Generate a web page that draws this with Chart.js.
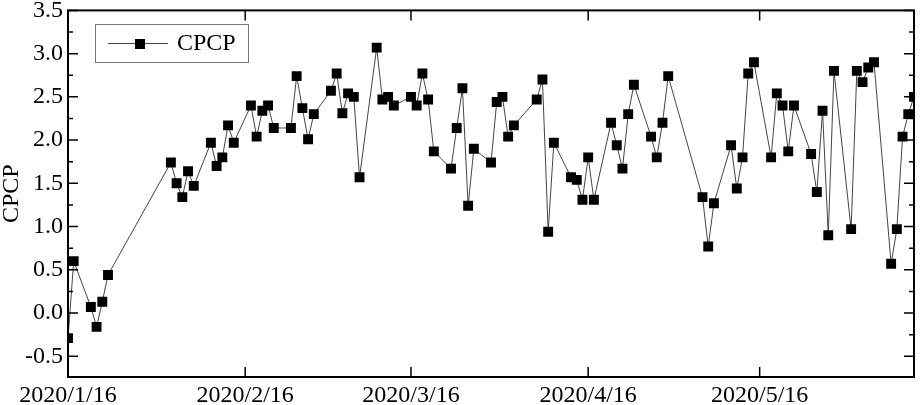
<!DOCTYPE html>
<html>
<head>
<meta charset="utf-8">
<script src="https://cdn.jsdelivr.net/npm/chart.js@4.4.0/dist/chart.umd.min.js"></script>
<style>
    body { margin: 0; background: #fff; }
    #wrap { width: 921px; height: 405px; }
</style>
</head>
<body>
<div id="wrap"><canvas id="myChart"></canvas></div>
<script>
    var dates = [
        '2020/1/16', '2020/1/17', '2020/1/20', '2020/1/21', '2020/1/22', '2020/1/23',
        '2020/2/3', '2020/2/4', '2020/2/5', '2020/2/6', '2020/2/7',
        '2020/2/10', '2020/2/11', '2020/2/12', '2020/2/13', '2020/2/14',
        '2020/2/17', '2020/2/18', '2020/2/19', '2020/2/20', '2020/2/21',
        '2020/2/24', '2020/2/25', '2020/2/26', '2020/2/27', '2020/2/28',
        '2020/3/2', '2020/3/3', '2020/3/4', '2020/3/5', '2020/3/6', '2020/3/7',
        '2020/3/10', '2020/3/11', '2020/3/12', '2020/3/13',
        '2020/3/16', '2020/3/17', '2020/3/18', '2020/3/19', '2020/3/20',
        '2020/3/23', '2020/3/24', '2020/3/25', '2020/3/26', '2020/3/27',
        '2020/3/30', '2020/3/31', '2020/4/1', '2020/4/2', '2020/4/3',
        '2020/4/7', '2020/4/8', '2020/4/9', '2020/4/10',
        '2020/4/13', '2020/4/14', '2020/4/15', '2020/4/16', '2020/4/17',
        '2020/4/20', '2020/4/21', '2020/4/22', '2020/4/23', '2020/4/24',
        '2020/4/27', '2020/4/28', '2020/4/29', '2020/4/30',
        '2020/5/6', '2020/5/7', '2020/5/8',
        '2020/5/11', '2020/5/12', '2020/5/13', '2020/5/14', '2020/5/15',
        '2020/5/18', '2020/5/19', '2020/5/20', '2020/5/21', '2020/5/22',
        '2020/5/25', '2020/5/26', '2020/5/27', '2020/5/28', '2020/5/29',
        '2020/6/1', '2020/6/2', '2020/6/3', '2020/6/4', '2020/6/5',
        '2020/6/8', '2020/6/9', '2020/6/10', '2020/6/11', '2020/6/12'
    ];
    var cpcp = [
        -0.29, 0.60, 0.07, -0.16, 0.13, 0.44,
        1.74, 1.50, 1.34, 1.64, 1.47,
        1.97, 1.70, 1.80, 2.17, 1.97,
        2.40, 2.04, 2.34, 2.40, 2.14,
        2.14, 2.74, 2.37, 2.01, 2.30,
        2.57, 2.77, 2.31, 2.54, 2.50, 1.57,
        3.07, 2.47, 2.50, 2.40,
        2.50, 2.40, 2.77, 2.47, 1.87,
        1.67, 2.14, 2.60, 1.24, 1.90,
        1.74, 2.44, 2.50, 2.04, 2.17,
        2.47, 2.70, 0.94, 1.97,
        1.57, 1.54, 1.31, 1.80, 1.31,
        2.20, 1.94, 1.67, 2.30, 2.64,
        2.04, 1.80, 2.20, 2.74,
        1.34, 0.77, 1.27,
        1.94, 1.44, 1.80, 2.77, 2.90,
        1.80, 2.54, 2.40, 1.87, 2.40,
        1.84, 1.40, 2.34, 0.90, 2.80,
        0.97, 2.80, 2.67, 2.84, 2.90,
        0.57, 0.97, 2.04, 2.30, 2.50
    ];
    var xTickDates = ['2020/1/16', '2020/2/16', '2020/3/16', '2020/4/16', '2020/5/16'];
    var yTicks = [-0.5, 0, 0.5, 1.0, 1.5, 2.0, 2.5, 3.0, 3.5];
    var startDate = '2020/1/16';
    var endDate = '2020/6/12';

    function dayNum(s) {
        var p = s.split('/');
        var q = startDate.split('/');
        return Math.round((Date.UTC(+p[0], +p[1] - 1, +p[2]) - Date.UTC(+q[0], +q[1] - 1, +q[2])) / 86400000);
    }

    var points = dates.map(function(d, i) {
        return { x: dayNum(d), y: cpcp[i] };
    });

    // frame + inward ticks on all four sides, like the original plot
    var frameTicks = {
        id: 'frameTicks',
        afterDraw: function(chart) {
            var ctx = chart.ctx, a = chart.chartArea;
            var xs = chart.scales.x, ys = chart.scales.y;
            ctx.save();
            ctx.strokeStyle = '#000';
            ctx.lineWidth = 1.5;
            ctx.beginPath();
            xs.ticks.forEach(function(t) {
                var px = xs.getPixelForValue(t.value);
                ctx.moveTo(px, a.bottom); ctx.lineTo(px, a.bottom - 10);
                ctx.moveTo(px, a.top); ctx.lineTo(px, a.top + 10);
            });
            for (var i = 0; i < yTicks.length; i++) {
                var py = ys.getPixelForValue(yTicks[i]);
                ctx.moveTo(a.left, py); ctx.lineTo(a.left + 10, py);
                ctx.moveTo(a.right, py); ctx.lineTo(a.right - 10, py);
                if (i < yTicks.length - 1) {
                    var pm = ys.getPixelForValue((yTicks[i] + yTicks[i + 1]) / 2);
                    ctx.moveTo(a.left, pm); ctx.lineTo(a.left + 5, pm);
                    ctx.moveTo(a.right, pm); ctx.lineTo(a.right - 5, pm);
                }
            }
            ctx.stroke();
            ctx.lineWidth = 2;
            ctx.strokeRect(a.left, a.top, a.right - a.left, a.bottom - a.top);

            // legend box
            var ds = chart.data.datasets[0];
            ctx.fillStyle = '#fff';
            ctx.fillRect(95, 24, 153, 38);
            ctx.strokeStyle = '#777';
            ctx.lineWidth = 1;
            ctx.strokeRect(95.5, 24.5, 153, 38);
            ctx.strokeStyle = ds.borderColor;
            ctx.beginPath();
            ctx.moveTo(108, 43.5); ctx.lineTo(168, 43.5);
            ctx.stroke();
            ctx.fillStyle = '#000';
            ctx.fillRect(135, 39, 10, 10);
            ctx.font = '24px "Liberation Serif"';
            ctx.textBaseline = 'middle';
            ctx.textAlign = 'left';
            ctx.fillText(ds.label, 177, 44);
            ctx.restore();
        }
    };

    var ctx = document.getElementById('myChart').getContext('2d');
    var myChart = new Chart(ctx, {
        type: 'line',
        data: {
            datasets: [{
                label: 'CPCP',
                data: points,
                borderColor: '#444',
                borderWidth: 1,
                pointStyle: 'rect',
                pointRadius: 7,
                pointBackgroundColor: '#000',
                pointBorderColor: '#000',
                pointBorderWidth: 0,
                tension: 0
            }]
        },
        options: {
            responsive: true,
            maintainAspectRatio: false,
            animation: false,
            layout: { padding: { top: 0, right: 1, left: 0, bottom: 0 } },
            plugins: {
                legend: { display: false },
                tooltip: { enabled: false }
            },
            scales: {
                x: {
                    type: 'linear',
                    min: 0,
                    max: dayNum(endDate),
                    grid: { display: false, drawTicks: false },
                    border: { display: false },
                    afterBuildTicks: function(axis) {
                        axis.ticks = xTickDates.map(function(d) { return { value: dayNum(d) }; });
                    },
                    afterFit: function(axis) { axis.height = 28; },
                    ticks: {
                        autoSkip: false,
                        maxRotation: 0,
                        padding: 4,
                        color: '#000',
                        font: { family: 'Liberation Serif', size: 24 },
                        callback: function(value) {
                            for (var i = 0; i < xTickDates.length; i++) {
                                if (dayNum(xTickDates[i]) === value) return xTickDates[i];
                            }
                            return '';
                        }
                    }
                },
                y: {
                    min: -0.74,
                    max: 3.5,
                    grid: { display: false, drawTicks: false },
                    border: { display: false },
                    afterBuildTicks: function(axis) {
                        axis.ticks = yTicks.map(function(v) { return { value: v }; });
                    },
                    afterFit: function(axis) { axis.width = 68; },
                    ticks: {
                        padding: 5,
                        color: '#000',
                        font: { family: 'Liberation Serif', size: 24, lineHeight: 0.45 },
                        callback: function(value) { return value.toFixed(1); }
                    },
                    title: {
                        display: true,
                        text: 'CPCP',
                        color: '#000',
                        padding: 0,
                        font: { family: 'Liberation Serif', size: 24, lineHeight: 1 }
                    }
                }
            }
        },
        plugins: [frameTicks]
    });
</script>
</body>
</html>
